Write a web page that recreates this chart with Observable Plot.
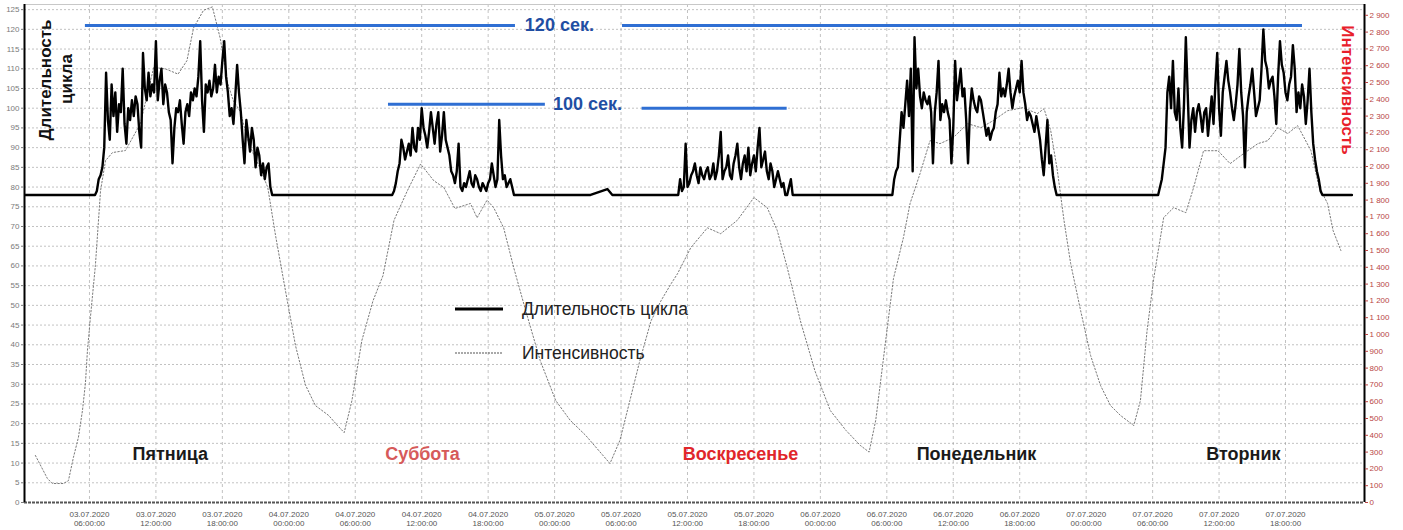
<!DOCTYPE html>
<html>
<head>
<meta charset="utf-8">
<script src="https://cdn.jsdelivr.net/npm/d3@7"></script>
<script src="https://cdn.jsdelivr.net/npm/@observablehq/plot@0.6"></script>
<style>
  html, body { margin: 0; padding: 0; background: #fff; }
  #wrap { position: relative; width: 1403px; height: 530px; font-family: "Liberation Sans", Arial, sans-serif; }
  #overlay { position: absolute; left: 0; top: 0; pointer-events: none; }
</style>
</head>
<body>
<div id="wrap"></div>
<script>
// ---------- DATA ----------
const chartStart = "03.07 00:08";
const chartEnd = "08.07 01:08";
const baselineCycle = 78;
const stepMinutes = 10;

// Tick values
const leftTicks = [0,5,10,15,20,25,30,35,40,45,50,55,60,65,70,75,80,85,90,95,100,105,110,115,120,125];
const rightTicks = [0,100,200,300,400,500,600,700,800,900,1000,1100,1200,1300,1400,1500,1600,1700,1800,1900,2000,2100,2200,2300,2400,2500,2600,2700,2800,2900];
const xTicks = ["03.07 06:00","03.07 12:00","03.07 18:00","04.07 00:00","04.07 06:00","04.07 12:00","04.07 18:00",
  "05.07 00:00","05.07 06:00","05.07 12:00","05.07 18:00","06.07 00:00","06.07 06:00","06.07 12:00","06.07 18:00",
  "07.07 00:00","07.07 06:00","07.07 12:00","07.07 18:00"];
// right axis (интенсивность) per unit of left axis
const axisRatio = 23.47;

// Cycle length blocks (10-minute steps)
const blockStarts = ["03.07 06:30","04.07 09:20","05.07 11:00","06.07 06:30","07.07 06:30"];
const fridayCycle = [78,79,82,83,85,90,109,97,92,106,98,104,94,101,99,110,96,91,100,97,
  102,98,103,101,94,90,114,105,102,109,103,106,104,117,102,107,110,101,106,104,
  99,97,86,95,100,99,102,96,91,99,101,98,104,102,105,103,108,117,102,94,
  106,104,107,103,105,111,104,108,106,112,117,108,104,98,100,96,103,111,104,99,
  92,86,97,93,89,95,92,85,90,88,83,86,82,85,86,80,78];
const saturdayCycle = [78,79,81,84,86,92,90,87,89,91,88,95,90,89,95,92,100,95,93,90,
  94,99,95,91,96,99,89,93,99,92,90,88,84,83,81,84,91,80,79,81,
  80,82,84,81,80,83,82,80,79,81,80,79,81,82,86,83,80,82,97,88,
  82,83,80,81,82,80,78];
const sundayCycle = [78,78,82,79,80,91,80,81,83,84,86,83,81,85,83,82,84,85,82,83,
  86,82,84,88,94,82,84,85,88,83,82,86,88,91,85,82,86,88,84,90,
  83,86,88,84,90,95,85,87,89,84,82,86,84,80,82,84,82,80,81,78,
  78,80,82,78];
const mondayCycle = [78,82,84,85,92,99,95,101,107,98,110,84,118,105,110,103,100,104,102,101,
  103,99,86,99,104,112,97,101,99,102,99,97,86,95,112,102,106,110,103,105,
  97,86,99,105,102,100,99,103,102,99,96,93,95,92,94,95,99,101,109,103,
  105,103,106,110,104,100,103,105,107,104,112,104,101,97,99,98,96,94,98,95,
  92,87,83,90,97,86,88,83,80,78];
const tuesdayCycle = [78,80,82,86,90,104,108,100,112,99,97,105,95,90,101,118,104,90,97,100,
  94,99,101,98,94,99,100,93,98,103,96,106,114,100,93,104,108,112,107,104,
  100,97,101,106,115,104,98,85,99,103,106,110,104,98,100,102,110,120,112,110,
  105,107,108,103,96,108,117,111,109,104,102,106,108,116,110,99,104,100,106,103,
  96,102,110,99,91,87,84,82,79,78];
// small bump in the night before Sunday
const bumpTimes = ["05.07 03:15","05.07 04:46","05.07 05:13"];
const bumpValues = [78,79.5,78];
const cycleEndTime = "08.07 00:00";
const cycleStartTime = "03.07 00:00";

// Intensity (dotted line, right axis)
const intensityTimes = ["03.07 01:07","03.07 02:12","03.07 02:39","03.07 03:39","03.07 04:06","03.07 04:33","03.07 05:00","03.07 05:22",
  "03.07 05:38","03.07 05:49","03.07 06:05","03.07 06:32","03.07 07:00","03.07 07:27","03.07 08:05","03.07 09:15","03.07 10:36",
  "03.07 11:48","03.07 12:54","03.07 14:00","03.07 14:48","03.07 15:24","03.07 16:18","03.07 17:06","03.07 17:48","03.07 18:30",
  "03.07 19:00","03.07 19:36","03.07 20:18","03.07 20:48","03.07 21:24","03.07 22:06","03.07 22:48","03.07 23:42",
  "04.07 00:36","04.07 01:30","04.07 02:24","04.07 03:36","04.07 04:24","04.07 05:00","04.07 05:42","04.07 06:36","04.07 07:36",
  "04.07 08:30","04.07 09:30","04.07 10:42","04.07 11:54","04.07 13:06","04.07 14:00","04.07 15:00","04.07 16:24","04.07 17:00",
  "04.07 17:54","04.07 18:30","04.07 19:24","04.07 20:18","04.07 21:24","04.07 22:42",
  "05.07 00:06","05.07 01:24","05.07 02:48","05.07 05:00","05.07 05:54","05.07 06:48","05.07 07:42","05.07 08:42","05.07 09:36",
  "05.07 10:30","05.07 11:06","05.07 12:18","05.07 13:48","05.07 15:00","05.07 16:30","05.07 18:00","05.07 19:12","05.07 20:06",
  "05.07 21:00","05.07 22:12","05.07 23:30",
  "06.07 00:54","06.07 02:18","06.07 03:36","06.07 04:24","06.07 05:00","06.07 05:54","06.07 06:36","06.07 07:30","06.07 08:06",
  "06.07 09:00","06.07 09:54","06.07 10:48","06.07 12:00","06.07 13:18","06.07 14:30","06.07 15:36","06.07 16:54","06.07 18:18",
  "06.07 19:36","06.07 20:12","06.07 20:48","06.07 21:24","06.07 22:00","06.07 22:36","06.07 23:30",
  "07.07 00:24","07.07 01:18","07.07 02:12","07.07 03:06","07.07 04:18","07.07 04:54","07.07 05:30","07.07 06:06","07.07 07:00",
  "07.07 07:54","07.07 09:00","07.07 09:42","07.07 10:36","07.07 11:54","07.07 13:00","07.07 14:12","07.07 15:30","07.07 16:24",
  "07.07 17:18","07.07 18:12","07.07 19:06","07.07 20:18","07.07 21:00","07.07 21:48","07.07 22:18","07.07 23:00"];
const intensityValues = [280,143,113,113,130,268,387,547,
  708,904,1100,1410,1856,2035,2083,2095,2255,
  2590,2580,2550,2630,2825,2930,2950,2765,2490,
  2390,2330,2155,2075,1990,1875,1590,1260,
  935,700,577,518,458,416,607,965,1200,
  1350,1680,1855,2015,1915,1875,1750,1780,1695,
  1800,1755,1635,1400,1140,845,
  607,490,400,232,370,607,845,1080,1200,
  1300,1362,1517,1635,1600,1680,1815,1755,1620,
  1400,1080,785,
  547,430,340,300,490,965,1333,1577,1780,
  1958,2154,2136,2172,2255,2231,2273,2332,2350,
  2315,2344,2213,1975,1678,1422,1142,
  875,696,577,518,458,607,1023,1333,1696,
  1755,1725,1874,2094,2094,2017,2076,2136,2154,
  2231,2196,2243,2094,1886,1779,1618,1500];

// Reference lines (blue)
const refLineStarts = ["03.07 05:38","05.07 06:08","04.07 09:00","05.07 07:54"];
const refLineEnds   = ["04.07 20:28","07.07 19:32","04.07 23:10","05.07 21:00"];
const refLineValues = [121,121,101,100];
const refLabelTimes = ["05.07 00:26","05.07 02:58"];
const refLabelValues = [121,101];
const refLabels = ["120 сек.","100 сек."];

// Day names
const dayNames = ["Пятница","Суббота","Воскресенье","Понедельник","Вторник"];
const dayTimes = ["03.07 13:18","04.07 12:04","05.07 16:47","06.07 14:06","07.07 14:12"];
const dayLabelValue = 12.3;
const dayColors = ["#1a1a1a","#d65a5a","#e0262a","#1a1a1a","#1a1a1a"];

// ---------- BUILD ----------
function parseT(s) {
  const [d, t] = s.split(" ");
  const [dd, mm] = d.split(".").map(Number);
  const [hh, mi] = t.split(":").map(Number);
  return new Date(2020, mm - 1, dd, hh, mi);
}

const cycle = [{t: parseT(cycleStartTime), v: baselineCycle}];
const blocks = [fridayCycle, saturdayCycle, sundayCycle, mondayCycle, tuesdayCycle];
blocks.forEach((vals, k) => {
  const s = parseT(blockStarts[k]);
  vals.forEach((v, i) => cycle.push({t: new Date(+s + i * stepMinutes * 60000), v}));
});
bumpTimes.forEach((t, i) => cycle.push({t: parseT(t), v: bumpValues[i]}));
cycle.push({t: parseT(cycleEndTime), v: baselineCycle});
cycle.sort((a, b) => a.t - b.t);

const intensity = intensityTimes.map((t, i) => ({t: parseT(t), v: intensityValues[i] / axisRatio}));
const refLines = refLineStarts.map((s, i) => ({x1: parseT(s), x2: parseT(refLineEnds[i]), y: refLineValues[i]}));
const refText = refLabels.map((s, i) => ({x: parseT(refLabelTimes[i]), y: refLabelValues[i], text: s}));
const days = dayNames.map((s, i) => ({x: parseT(dayTimes[i]), y: dayLabelValue, text: s, color: dayColors[i]}));

const xDomain = [parseT(chartStart), parseT(chartEnd)];
const yDomain = [0, 126.3];
const xTickDates = xTicks.map(parseT);
const fmtX = d3.timeFormat("%d.%m.%Y\n%H:%M:%S");
const locale = d3.formatLocale({decimal: ",", thousands: "\u00a0", grouping: [3], currency: ["", ""]});
const fmtR = locale.format(",d");

const chart = Plot.plot({
  width: 1403,
  height: 530,
  marginLeft: 24,
  marginRight: 39,
  marginTop: 4,
  marginBottom: 28,
  style: {fontFamily: "'Liberation Sans', Arial, sans-serif", background: "#fff"},
  x: {type: "time", domain: xDomain},
  y: {domain: yDomain},
  color: {type: "identity"},
  marks: [
    Plot.gridY({ticks: leftTicks, stroke: "#9a9a9a", strokeOpacity: 0.6, strokeDasharray: "2,2"}),
    Plot.gridX({ticks: xTickDates, stroke: "#9a9a9a", strokeOpacity: 0.6, strokeDasharray: "3,3"}),
    Plot.ruleY([yDomain[1]], {stroke: "#c8c8c8", strokeWidth: 1}),
    Plot.ruleY([0], {stroke: "#555", strokeWidth: 2, strokeDasharray: "3,1"}),
    Plot.line(intensity, {x: "t", y: "v", stroke: "#7a7a7a", strokeWidth: 1, strokeDasharray: "1.5,2", clip: true}),
    Plot.line(cycle, {x: "t", y: "v", stroke: "#000", strokeWidth: 2.4, strokeLinejoin: "round", clip: true}),
    Plot.ruleY(refLines, {y: "y", x1: "x1", x2: "x2", stroke: "#2f6fd3", strokeWidth: 3}),
    Plot.text(refText, {x: "x", y: "y", text: "text", fill: "#1f4ea3", fontSize: 18, fontWeight: "bold"}),
    Plot.text(days, {x: "x", y: "y", text: "text", fill: "color", fontSize: 18, fontWeight: "bold"}),
    Plot.ruleX([xDomain[0]], {stroke: "#000", strokeWidth: 2}),
    Plot.ruleX([xDomain[1]], {stroke: "#000", strokeWidth: 2}),
    Plot.axisY({ticks: leftTicks, anchor: "left", tickSize: 3, tickPadding: 2, fontSize: 8, color: "#7a7a7a", label: null}),
    Plot.axisY({ticks: rightTicks.map(v => v / axisRatio), anchor: "right", tickSize: 3, tickPadding: 2, fontSize: 8,
      color: "#b84545", label: null, tickFormat: d => fmtR(Math.round(d * axisRatio / 100) * 100)}),
    Plot.axisX({ticks: xTickDates, anchor: "bottom", tickSize: 0, tickPadding: 8, fontSize: 8, color: "#555",
      label: null, tickFormat: d => fmtX(d), lineHeight: 1.1})
  ]
});

const wrap = document.getElementById("wrap");
wrap.appendChild(chart);

// Overlay: axis titles and legend inside the plot
const ns = "http://www.w3.org/2000/svg";
const ov = document.createElementNS(ns, "svg");
ov.setAttribute("id", "overlay");
ov.setAttribute("width", 1403);
ov.setAttribute("height", 530);
ov.innerHTML = `
  <g font-family="'Liberation Sans', Arial, sans-serif">
    <text transform="translate(45,80) rotate(-90)" text-anchor="middle" dominant-baseline="central" font-size="17" font-weight="bold" fill="#111">Длительность</text>
    <text transform="translate(66,79) rotate(-90)" text-anchor="middle" dominant-baseline="central" font-size="17" font-weight="bold" fill="#111">цикла</text>
    <text transform="translate(1347,90) rotate(90)" text-anchor="middle" dominant-baseline="central" font-size="17" font-weight="bold" fill="#e8202a">Интенсивность</text>
    <line x1="455" x2="503" y1="309" y2="309" stroke="#000" stroke-width="3"/>
    <text x="522" y="309" dominant-baseline="central" font-size="17.5" fill="#222">Длительность цикла</text>
    <line x1="455" x2="502" y1="353" y2="353" stroke="#555" stroke-width="1.2" stroke-dasharray="2,1"/>
    <text x="522" y="353" dominant-baseline="central" font-size="17.5" fill="#222">Интенсивность</text>
  </g>`;
wrap.appendChild(ov);
</script>
</body>
</html>
